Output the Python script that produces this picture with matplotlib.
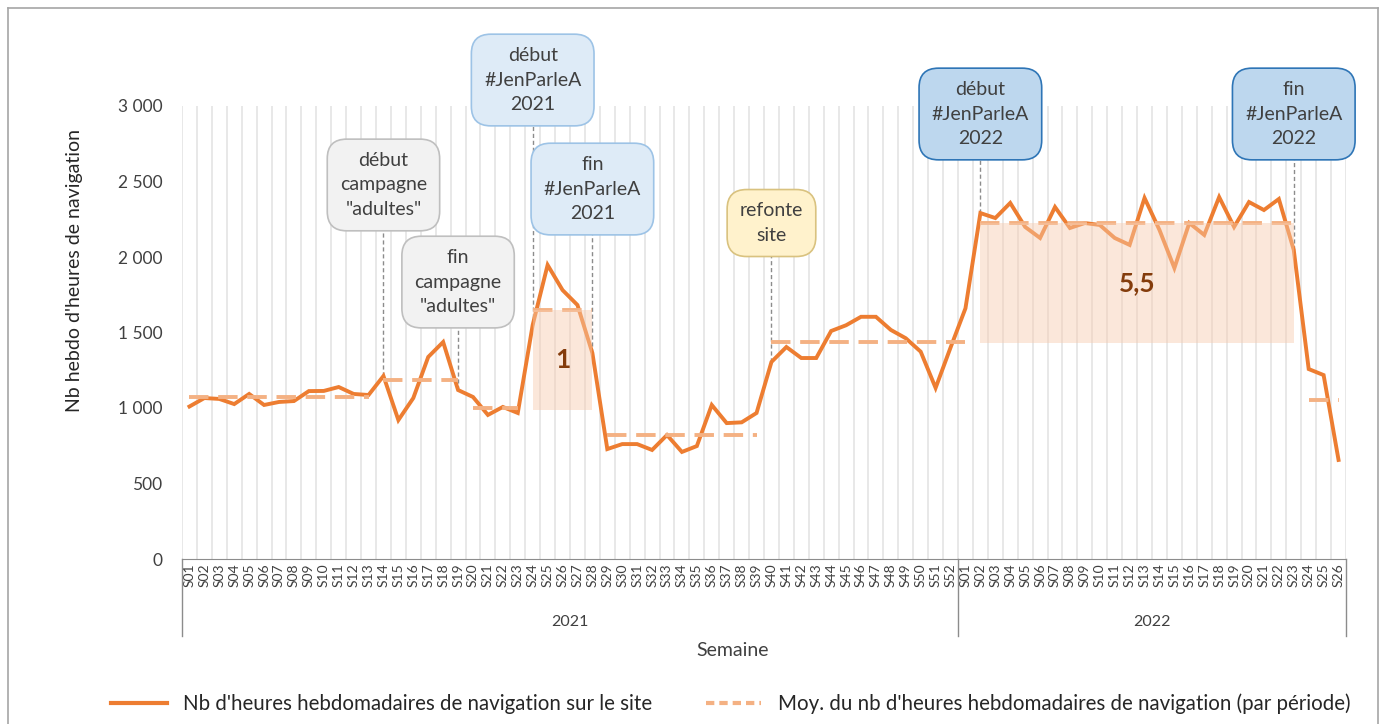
import numpy as np
import matplotlib
matplotlib.use('Agg')
import matplotlib.pyplot as plt
from matplotlib.lines import Line2D
from matplotlib.patches import Rectangle

plt.rcParams['font.family'] = ['Lato', 'DejaVu Sans']

# données
weeks_2021 = ['S%02d' % i for i in range(1, 53)]
weeks_2022 = ['S%02d' % i for i in range(1, 27)]
hours_2021 = [1010, 1066, 1060, 1026, 1093, 1020, 1040, 1046, 1112, 1113,
              1139, 1093, 1086, 1212, 920, 1066, 1338, 1437, 1119, 1073,
              954, 1007, 967, 1550, 1947, 1781, 1682, 1364, 728, 761,
              761, 722, 821, 709, 748, 1020, 900, 905, 967, 1305,
              1404, 1331, 1331, 1510, 1548, 1604, 1604, 1517, 1462, 1373,
              1133, 1400]
hours_2022 = [1660, 2291, 2258, 2358, 2199, 2126, 2331, 2192, 2225, 2212,
              2126, 2080, 2391, 2179, 1927, 2225, 2146, 2397, 2199, 2364,
              2311, 2384, 2046, 1258, 1218, 656]

# moyennes par période : (début, fin) en index de semaine (0 = S01 2021)
period_start = [0, 13, 19, 23, 28, 39, 53, 75]
period_end = [12, 18, 22, 27, 38, 52, 74, 77]
period_mean = [1075, 1185, 1000, 1650, 821, 1437, 2225, 1053]

# zones surlignées
zone_start = [23, 53]
zone_end = [27, 74]
zone_low = [990, 1430]
zone_high = [1650, 2225]
zone_label = ['1', '5,5']

# événements
event_week = [13, 18, 23, 27, 39, 53, 74]
event_text = ['début\ncampagne\n"adultes"', 'fin\ncampagne\n"adultes"',
              'début\n#JenParleA\n2021', 'fin\n#JenParleA\n2021',
              'refonte\nsite', 'début\n#JenParleA\n2022', 'fin\n#JenParleA\n2022']
event_box_y = [2477, 1834, 3172, 2450, 2225, 2947, 2947]
event_style = ['gris', 'gris', 'bleu_clair', 'bleu_clair', 'jaune', 'bleu', 'bleu']
styles = {'gris': ('#f2f2f2', '#bfbfbf'),
          'bleu_clair': ('#deebf7', '#9dc3e6'),
          'jaune': ('#fff2cc', '#d9c27f'),
          'bleu': ('#bdd7ee', '#2e75b6')}

labels = weeks_2021 + weeks_2022
hours = hours_2021 + hours_2022
x = np.arange(len(hours))

fig = plt.figure(figsize=(13.84, 7.24), dpi=100)
ax = fig.add_axes([182/1384, 165/724, 1164/1384, 453/724])

orange = '#ed7d31'
orange_light = '#f4b183'

ax.plot(x, hours, color=orange, lw=2.8, zorder=4, solid_joinstyle='miter')
for s, e, m in zip(period_start, period_end, period_mean):
    ax.plot([s, e], [m, m], color=orange_light, lw=2.8, dashes=(5, 2.5), zorder=5)

for s, e, lo, hi, lab in zip(zone_start, zone_end, zone_low, zone_high, zone_label):
    ax.add_patch(Rectangle((s, lo), e - s, hi - lo, facecolor='#f8cbad', alpha=0.45,
                           edgecolor='none', zorder=6))
    ax.text((s + e) / 2, (lo + hi) / 2, lab, ha='center', va='center', fontsize=19,
            fontweight='bold', color='#843c0c', zorder=7)

for w, t, by, st in zip(event_week, event_text, event_box_y, event_style):
    fc, ec = styles[st]
    ax.plot([w, w], [hours[w], by], color='#8c8c8c', lw=1, ls=(0, (3, 2)),
            zorder=3, clip_on=False)
    ax.text(w, by, t, ha='center', va='center', fontsize=14, color='#404040',
            linespacing=1.55, zorder=8, clip_on=False,
            bbox=dict(boxstyle='round,pad=0.65,rounding_size=1.0', fc=fc, ec=ec, lw=1.2))

ax.set_xlim(-0.5, len(hours) - 0.5)
ax.set_ylim(0, 3000)
ax.set_yticks(np.arange(0, 3001, 500))
ax.set_yticklabels([f'{v:,}'.replace(',', ' ') for v in range(0, 3001, 500)])
ax.set_xticks(x)
ax.set_xticklabels(labels, rotation=90, fontsize=10, color='#404040')
ax.set_xticks(np.arange(-0.5, len(hours), 1), minor=True)
ax.grid(which='minor', axis='x', color='#e6e6e6', lw=1.3)
ax.tick_params(which='both', length=0)
ax.tick_params(axis='x', pad=3)
ax.tick_params(axis='y', labelsize=12.5, labelcolor='#404040', pad=14)
for sp in ['top', 'right', 'left']:
    ax.spines[sp].set_visible(False)
ax.spines['bottom'].set_color('#8c8c8c')

# axe des années
tr = ax.get_xaxis_transform()
for xb in [-0.5, len(weeks_2021) - 0.5, len(hours) - 0.5]:
    ax.plot([xb, xb], [0, -0.17], color='#8c8c8c', lw=1, transform=tr, clip_on=False)
ax.text((len(weeks_2021) - 1) / 2, -0.139, '2021', transform=tr, ha='center',
        va='center', fontsize=11.5, color='#404040')
ax.text(len(weeks_2021) + (len(weeks_2022) - 1) / 2, -0.139, '2022', transform=tr,
        ha='center', va='center', fontsize=11.5, color='#404040')
ax.text(0.473, -0.201, 'Semaine', transform=ax.transAxes, ha='center', va='center',
        fontsize=14, color='#404040')
fig.text(75/1384, 1 - 270/724, "Nb hebdo d'heures de navigation", rotation=90,
         ha='center', va='center', fontsize=14, color='#262626')

h1 = Line2D([], [], color=orange, lw=3)
h2 = Line2D([], [], color=orange_light, lw=3, dashes=(2, 1.2))
fig.legend([h1, h2], ["Nb d'heures hebdomadaires de navigation sur le site",
                      "Moy. du nb d'heures hebdomadaires de navigation (par période)"],
           loc='center', bbox_to_anchor=(0.528, 1 - 704/724), ncol=2, frameon=False,
           fontsize=14.8, handlelength=2.7, columnspacing=2.6, labelcolor='#262626')

# cadre
for xs, ys in [([8, 8], [0, 716]), ([8, 1378], [716, 716]), ([1378, 1378], [716, 0])]:
    fig.add_artist(Line2D([v / 1384 for v in xs], [v / 724 for v in ys],
                          color='#a6a6a6', lw=1.2))

fig.savefig('out.png', dpi=100)
